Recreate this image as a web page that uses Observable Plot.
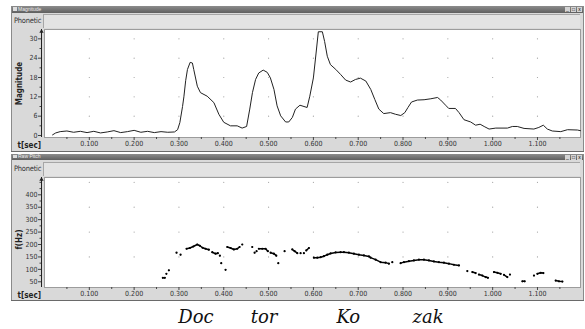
<!DOCTYPE html>
<html><head><meta charset="utf-8">
<script src="https://cdn.jsdelivr.net/npm/d3@7"></script>
<script src="https://cdn.jsdelivr.net/npm/@observablehq/plot@0.6"></script>
<style>
body{margin:0;background:#fff;width:585px;height:329px;overflow:hidden;position:relative;}
.abs{position:absolute;}
.tbar{position:absolute;left:12px;width:571px;background:linear-gradient(#8c8c8c,#5f5f5f);}
.tbar .t{position:absolute;left:6px;top:0;font:5px "Liberation Sans",Arial,sans-serif;color:#eee;line-height:6px;}
.tbar .ic{position:absolute;left:1px;top:1px;width:4px;height:4px;background:#ddd;}
.btns{position:absolute;right:1px;top:1px;height:5px;display:flex;gap:1px;}
.btns span{width:5px;height:5px;background:#d4d4d4;font:5px "Liberation Sans";line-height:5px;text-align:center;color:#000;}
.row{position:absolute;left:12px;width:571px;background:#dadada;}
.row .lab{position:absolute;left:2px;z-index:2;font:7.5px "Liberation Sans Narrow","DejaVu Sans Condensed","Liberation Sans",Arial,sans-serif;letter-spacing:-0.25px;color:#333;}
.row .pan{position:absolute;left:31px;right:3px;background:#e3e3e3;border-top:1px solid #a6a6a6;border-left:1px solid #a6a6a6;}
.edge{position:absolute;background:#8a8a8a;}
.syl{position:absolute;top:306px;font:italic 18px "DejaVu Serif",serif;color:#111;line-height:22px;transform:translateX(-50%);white-space:nowrap;}
</style></head>
<body>
<div id="w1">
  <div class="tbar" style="top:6px;height:7px;"><div class="ic"></div><div class="t">Magnitude</div><div class="btns"><span>_</span><span>□</span><span>x</span></div></div>
  <div class="row" style="top:13px;height:15px;"><div class="lab" style="top:3px;">Phonetic</div><div class="pan" style="top:1px;height:13px;"></div></div>
</div>
<div id="c1" class="abs" style="left:12px;top:28px;"></div>
<div class="edge" style="left:11px;top:6px;width:1px;height:146px;"></div>
<div class="edge" style="left:583px;top:6px;width:1px;height:146px;"></div>
<div class="edge" style="left:11px;top:151px;width:573px;height:1px;background:#6a6a6a;"></div>
<div id="w2">
  <div class="tbar" style="top:154px;height:6px;"><div class="ic" style="height:3px"></div><div class="t" style="line-height:5px">Raw Pitch</div><div class="btns" style="top:0.5px"><span>_</span><span>□</span><span>x</span></div></div>
  <div class="row" style="top:160px;height:16px;"><div class="lab" style="top:4px;">Phonetic</div><div class="pan" style="top:2px;height:13px;"></div></div>
</div>
<div id="c2" class="abs" style="left:12px;top:176px;"></div>
<div class="edge" style="left:11px;top:154px;width:1px;height:147px;"></div>
<div class="edge" style="left:583px;top:154px;width:1px;height:147px;"></div>
<div class="edge" style="left:11px;top:300px;width:573px;height:1px;background:#6a6a6a;"></div>
<div id="cap"></div>
<script>
// ---- data ----
const magT = [0.018,0.025,0.035,0.05,0.065,0.08,0.095,0.11,0.125,0.14,0.155,0.17,0.185,0.2,0.215,0.23,0.245,0.26,0.275,0.29,0.297,0.302,0.308,0.311,0.315,0.319,0.325,0.330,0.333,0.341,0.348,0.363,0.378,0.389,0.400,0.415,0.430,0.441,0.451,0.458,0.464,0.471,0.478,0.488,0.497,0.504,0.512,0.519,0.527,0.538,0.545,0.553,0.560,0.570,0.579,0.586,0.592,0.600,0.606,0.611,0.620,0.625,0.631,0.638,0.650,0.661,0.672,0.683,0.694,0.705,0.717,0.728,0.737,0.746,0.757,0.772,0.783,0.795,0.804,0.811,0.819,0.832,0.847,0.862,0.877,0.884,0.895,0.902,0.917,0.925,0.936,0.951,0.962,0.972,0.981,0.992,1.007,1.033,1.044,1.055,1.070,1.092,1.103,1.113,1.122,1.133,1.152,1.167,1.189,1.196];
const magV = [0.2,0.8,1.2,1.4,1.0,1.3,0.9,1.3,0.8,1.1,1.5,0.9,1.2,1.6,1.0,1.3,0.9,1.2,1.0,1.1,1.8,4,9,12,17,20.5,22.7,22.5,20.5,15.3,13.3,12.2,10.2,6.6,4.1,3.0,3.0,2.3,2.8,8.2,13.3,17.4,19.4,20.3,19.6,17.9,14.3,9.2,6.1,4.2,4.2,5.6,8.2,9.4,9.0,8.7,12.2,17.9,25.6,32.2,32.2,29.2,24.6,22,20.5,18.9,17.2,16.6,17.4,17.8,16.9,14.3,11.2,8.2,6.8,7.1,6.6,6.2,7.1,8.7,10.4,11,11.1,11.4,11.8,11,9.4,8.4,8.4,7.1,4.9,4.2,3.2,3.5,2.8,2.0,2.3,2.3,2.8,2.8,2.2,2.0,2.5,3.2,2.0,1.4,1.2,1.8,1.7,1.5];

const pitchT = [0.264,0.2685,0.272,0.2775,0.2946,0.3036,0.317,0.3243,0.3319,0.3408,0.3467,0.3527,0.3594,0.3667,0.3743,0.3817,0.3868,0.3913,0.3944,0.404,0.4078,0.4152,0.4225,0.4301,0.4353,0.4413,0.4636,0.4688,0.4732,0.4783,0.4859,0.4933,0.4984,0.5045,0.5118,0.5172,0.5217,0.5357,0.5529,0.558,0.5641,0.5714,0.5788,0.5841,0.59,0.6011,0.6087,0.6161,0.6234,0.631,0.6384,0.6496,0.6607,0.6681,0.6792,0.6904,0.7016,0.7127,0.7239,0.7277,0.7388,0.75,0.7612,0.7685,0.7761,0.7946,0.802,0.8132,0.8243,0.8355,0.8467,0.8578,0.869,0.8801,0.8913,0.9025,0.9136,0.9248,0.9435,0.9547,0.962,0.9694,0.977,0.9844,0.9895,1.0029,1.0105,1.0179,1.0252,1.0328,1.0386,1.0663,1.0714,1.0922,1.0998,1.1071,1.1132,1.1406,1.148,1.1556];
const pitchF = [66,66,82,96,167,159,183,186,192,200,195,187,183,179,169,163,165,155,125,98,190,186,180,183,190,200,190,167,173,183,183,183,173,167,163,155,125,173,180,173,165,165,165,176,186,147,147,149,153,159,164,168,169,169,167,163,159,156,152,147,139,129,127,123,129,125,129,133,136,139,139,136,132,129,127,123,118.5,116,93,89,85,79,75,69,66,89,86,82,78,69,79,52,52,75,82,86,85,55,52,51];
const pitchSeg = [1,1,2,3,4,5,6,6,6,6,6,6,6,6,7,7,7,8,9,10,11,11,11,11,11,12,13,14,15,16,16,16,16,17,17,17,18,19,20,20,20,21,22,23,23,24,24,24,24,24,24,24,24,24,24,24,24,24,24,24,24,24,24,24,25,26,26,26,26,26,26,26,26,26,26,26,26,26,27,28,28,29,29,29,29,30,30,30,31,31,32,33,33,34,35,35,35,36,36,36];

const xTicks = [0.1,0.2,0.3,0.4,0.5,0.6,0.7,0.8,0.9,1.0,1.1];
const xTickLabels = ["0.100","0.200","0.300","0.400","0.500","0.600","0.700","0.800","0.900","1.000","1.100"];
const xMinor = [0.05,0.15,0.25,0.35,0.45,0.55,0.65,0.75,0.85,0.95,1.05,1.15];
const magTicks = [0,6,12,18,24,30];
const magMinor = [3,9,15,21,27];
const magGridY = [6,12,18,24,30];
const pitchTicks = [50,100,150,200,250,300,350,400];
const pitchMinor = [75,125,175,225,275,325,375,425,450];
const pitchGridY = [150,250,350,450];
const syllables = ["Doc","tor","Ko","zak"];
const syllableT = [0.339,0.491,0.679,0.857];

// ---- build ----
const font = `"Liberation Sans Narrow","DejaVu Sans Condensed","Liberation Sans",Arial,sans-serif`;
const mag = magT.map((t,i)=>({t, v: magV[i]}));
const pitch = pitchT.map((t,i)=>({t, f: pitchF[i], seg: pitchSeg[i]}));
const grid = (ys) => xTicks.flatMap(x => ys.map(y => ({x, y})));
const xDomain = [0, 1.196];

function panel({height, marginBottom, yDomain, yTicks, yMinor, gridY, yLabel, labelDy, dataMarks}) {
  return Plot.plot({
    width: 571, height,
    marginLeft: 32, marginRight: 3, marginTop: 1, marginBottom,
    style: {background: "#d9d9d9", fontFamily: font, fontSize: "7px", color: "#222", overflow: "visible"},
    x: {domain: xDomain},
    y: {domain: yDomain},
    marks: [
      Plot.frame({fill: "white", stroke: "#9c9c9c"}),
      Plot.dot(grid(gridY), {x: "x", y: "y", r: 0.6, fill: "#a0a0a0", stroke: null}),
      ...dataMarks,
      Plot.axisX({ticks: xTicks, tickFormat: d => xTickLabels[xTicks.indexOf(d)], tickSize: 3, tickPadding: 1, label: null, stroke: "#444", fill: "#333"}),
      Plot.axisX({ticks: xMinor, tickSize: 2, text: null, label: null, stroke: "#444"}),
      Plot.ruleX([0], {dx: -3, stroke: "#222"}),
      Plot.dot([yDomain[1]], {x: () => 0, y: d => d, symbol: "triangle", r: 1.6, fill: "#222", stroke: null, dx: -3, dy: 2}),
      Plot.axisY({ticks: yTicks, tickSize: 3, tickPadding: 1, dx: -3, label: null, stroke: "#444", fill: "#333"}),
      Plot.axisY({ticks: yMinor, tickSize: 1.5, dx: -3, text: null, label: null, stroke: "#444"}),
      Plot.text([yLabel], {frameAnchor: "left", rotate: -90, dx: -25, dy: labelDy, textAnchor: "middle", lineAnchor: "middle", fontWeight: "bold", fontSize: 8, fill: "#222"}),
      Plot.text(["t[sec]"], {frameAnchor: "bottom-left", dx: -27, dy: 8, textAnchor: "start", lineAnchor: "middle", fontWeight: "bold", fontSize: 8, fill: "#222"})
    ]
  });
}

const chartTop = panel({
  height: 123, marginBottom: 14, yDomain: [-0.62, 32.9],
  yTicks: magTicks, yMinor: magMinor, gridY: magGridY, yLabel: "Magnitude", labelDy: 0,
  dataMarks: [Plot.line(mag, {x: "t", y: "v", stroke: "#222", strokeWidth: 1})]
});
document.getElementById("c1").appendChild(chartTop);

const chartBottom = panel({
  height: 124, marginBottom: 13, yDomain: [27, 469.6],
  yTicks: pitchTicks, yMinor: pitchMinor, gridY: pitchGridY, yLabel: "f(Hz)", labelDy: 7,
  dataMarks: [
    Plot.line(pitch, {x: "t", y: "f", z: "seg", stroke: "#000", strokeWidth: 1.5}),
    Plot.dot(pitch, {x: "t", y: "f", r: 1.1, fill: "#000", stroke: null})
  ]
});
document.getElementById("c2").appendChild(chartBottom);

const xs = chartBottom.scale("x");
const cap = document.getElementById("cap");
syllables.forEach((s, i) => {
  const el = document.createElement("div");
  el.className = "syl";
  el.style.left = (12 + xs.apply(syllableT[i])) + "px";
  el.textContent = s;
  cap.appendChild(el);
});
</script>
</body></html>
